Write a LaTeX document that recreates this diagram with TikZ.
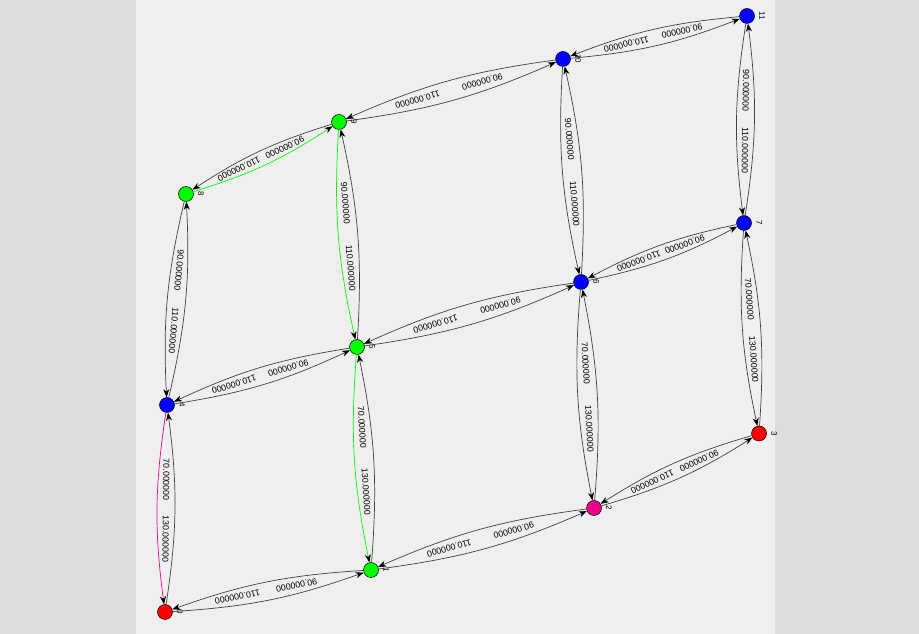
\documentclass[tikz,border=0pt]{standalone}
\usepackage{fontspec}
\setmainfont{Liberation Sans}
\usepackage{xcolor}
\usetikzlibrary{arrows.meta}
\definecolor{outer}{RGB}{221,221,221}
\definecolor{panel}{RGB}{239,239,239}

\begin{document}
\begin{tikzpicture}[x=1pt,y=1pt,
 vtx/.style={circle,draw=black,line width=0.5pt,minimum size=15pt,inner sep=0pt},
 lab/.style={font=\fontsize{8}{9}\selectfont,rotate=-90,inner sep=0pt,yshift=15pt},
 arr/.style={-{Stealth[length=8pt,width=6pt,inset=2.5pt,black]},draw=black!75,line width=0.7pt,bend right=8},
 hlg/.style={arr,draw=green},
 hlm/.style={arr,draw=magenta},
 wt/.style={font=\fontsize{8.8}{10}\selectfont,sloped,allow upside down,inner sep=0pt}]
% background
\fill[outer] (0,0) rectangle (919,634);
\fill[panel] (136,0) rectangle (775,634);
\useasboundingbox (0,0) rectangle (919,634);
% vertices
\node[vtx,fill=red] (v0) at (165,22) {};
\node[vtx,fill=green] (v1) at (371,64) {};
\node[vtx,fill=magenta] (v2) at (594,126) {};
\node[vtx,fill=red] (v3) at (759,200.5) {};
\node[vtx,fill=blue] (v4) at (167,229) {};
\node[vtx,fill=green] (v5) at (357,287) {};
\node[vtx,fill=blue] (v6) at (581,352) {};
\node[vtx,fill=blue] (v7) at (744,411) {};
\node[vtx,fill=green] (v8) at (186,440) {};
\node[vtx,fill=green] (v9) at (339,512) {};
\node[vtx,fill=blue] (v10) at (563,575) {};
\node[vtx,fill=blue] (v11) at (747,618) {};
% vertex numbers
\node[lab] (l0) at (v0) {0};
\node[lab] (l1) at (v1) {1};
\node[lab] (l2) at (v2) {2};
\node[lab] (l3) at (v3) {3};
\node[lab] (l4) at (v4) {4};
\node[lab] (l5) at (v5) {5};
\node[lab] (l6) at (v6) {6};
\node[lab] (l7) at (v7) {7};
\node[lab] (l8) at (v8) {8};
\node[lab] (l9) at (v9) {9};
\node[lab] (l10) at (v10) {10};
\node[lab] (l11) at (v11) {11};
% bottom row
\draw[arr] (v0) to (v1);
\draw[arr] (v1) to (v0);
\path (v1) -- node[wt,pos=.35]{90.000000} node[wt,pos=.66]{110.000000} (v0);
\draw[arr] (v1) to (v2);
\draw[arr] (v2) to (v1);
\path (v2) -- node[wt,pos=.35]{90.000000} node[wt,pos=.66]{110.000000} (v1);
\draw[arr] (v2) to (v3);
\draw[arr] (v3) to (v2);
\path (v3) -- node[wt,pos=.35]{90.000000} node[wt,pos=.66]{110.000000} (v2);
% middle row
\draw[arr] (v4) to (v5);
\draw[arr] (v5) to (v4);
\path (v5) -- node[wt,pos=.35]{90.000000} node[wt,pos=.66]{110.000000} (v4);
\draw[arr] (v5) to (v6);
\draw[arr] (v6) to (v5);
\path (v6) -- node[wt,pos=.35]{90.000000} node[wt,pos=.66]{110.000000} (v5);
\draw[arr] (v6) to (v7);
\draw[arr] (v7) to (v6);
\path (v7) -- node[wt,pos=.35]{90.000000} node[wt,pos=.66]{110.000000} (v6);
% top row
\draw[hlg] (v8) to (v9);
\draw[arr] (v9) to (v8);
\path (v9) -- node[wt,pos=.34]{90.000000} node[wt,pos=.67]{110.000000} (v8);
\draw[arr] (v9) to (v10);
\draw[arr] (v10) to (v9);
\path (v10) -- node[wt,pos=.35]{90.000000} node[wt,pos=.66]{110.000000} (v9);
\draw[arr] (v10) to (v11);
\draw[arr] (v11) to (v10);
\path (v11) -- node[wt,pos=.34]{90.000000} node[wt,pos=.67]{110.000000} (v10);
% lower columns
\draw[arr] (v0) to (v4);
\draw[hlm] (v4) to (v0);
\path (v4) -- node[wt,pos=.35]{70.000000} node[wt,pos=.66]{130.000000} (v0);
\draw[arr] (v1) to (v5);
\draw[hlg] (v5) to (v1);
\path (v5) -- node[wt,pos=.35]{70.000000} node[wt,pos=.66]{130.000000} (v1);
\draw[arr] (v2) to (v6);
\draw[arr] (v6) to (v2);
\path (v6) -- node[wt,pos=.35]{70.000000} node[wt,pos=.66]{130.000000} (v2);
\draw[arr] (v3) to (v7);
\draw[arr] (v7) to (v3);
\path (v7) -- node[wt,pos=.35]{70.000000} node[wt,pos=.66]{130.000000} (v3);
% upper columns
\draw[arr] (v4) to (v8);
\draw[arr] (v8) to (v4);
\path (v8) -- node[wt,pos=.35]{90.000000} node[wt,pos=.66]{110.000000} (v4);
\draw[arr] (v5) to (v9);
\draw[hlg] (v9) to (v5);
\path (v9) -- node[wt,pos=.35]{90.000000} node[wt,pos=.66]{110.000000} (v5);
\draw[arr] (v6) to (v10);
\draw[arr] (v10) to (v6);
\path (v10) -- node[wt,pos=.35]{90.000000} node[wt,pos=.66]{110.000000} (v6);
\draw[arr] (v7) to (v11);
\draw[arr] (v11) to (v7);
\path (v11) -- node[wt,pos=.35]{90.000000} node[wt,pos=.66]{110.000000} (v7);
\end{tikzpicture}
\end{document}
